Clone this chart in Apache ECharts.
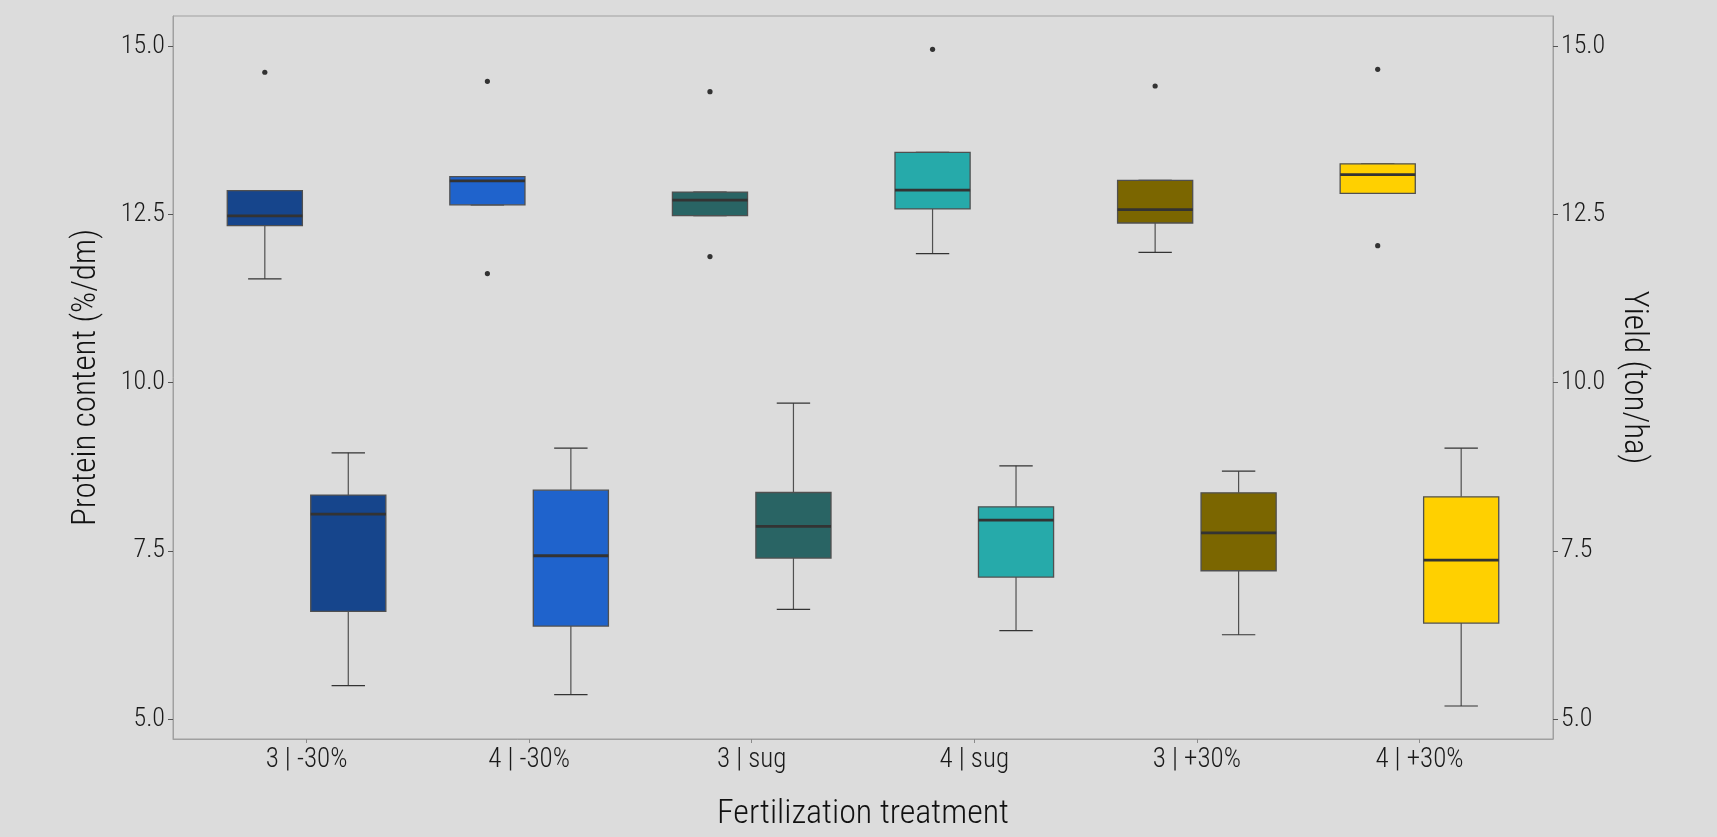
<!DOCTYPE html>
<html>
<head>
<meta charset="utf-8">
<script src="https://cdn.jsdelivr.net/npm/echarts@6/dist/echarts.min.js"></script>
<style>
html,body{margin:0;padding:0;background:#dcdcdc;}
#chart{width:1717px;height:837px;}
</style>
</head>
<body>
<div id="chart"></div>
<script>
// ---- data ----
const categories = ['3 | -30%', '4 | -30%', '3 | sug', '4 | sug', '3 | +30%', '4 | +30%'];
const boxColors = ['#16458C', '#1F63CC', '#296464', '#26AAAA', '#7B6600', '#FFD000'];
const yTicks = [5, 7.5, 10, 12.5, 15];

// [lower whisker, Q1, median, Q3, upper whisker]
const proteinStats = [
  [11.54, 12.33, 12.475, 12.85, 12.85],
  [12.64, 12.64, 12.995, 13.06, 13.06],
  [12.48, 12.48, 12.71, 12.83, 12.83],
  [11.915, 12.58, 12.86, 13.42, 13.42],
  [11.935, 12.37, 12.57, 13.005, 13.005],
  [12.81, 12.81, 13.09, 13.25, 13.25]
];
// [category number (1-based), value]
const proteinOutliers = [
  [1, 14.61], [2, 14.476], [2, 11.618], [3, 14.321], [3, 11.871],
  [4, 14.951], [5, 14.406], [6, 14.654], [6, 12.034]
];
const yieldStats = [
  [5.495, 6.598, 8.045, 8.327, 8.955],
  [5.361, 6.381, 7.426, 8.401, 9.025],
  [6.628, 7.391, 7.861, 8.366, 9.693],
  [6.312, 7.109, 7.955, 8.153, 8.762],
  [6.252, 7.203, 7.767, 8.361, 8.683],
  [5.193, 6.426, 7.362, 8.302, 9.025]
];
const yieldOutliers = [];

const axisMin = 4.703, axisMax = 15.446;
const FONT = "'Roboto Condensed', 'Liberation Sans Narrow', 'DejaVu Sans Condensed', sans-serif";

// ---- build ----
function boxData(stats) {
  return stats.map((s, i) => [i + 1].concat(s));
}
const DODGE = 0.1875, BOXW = 0.3375, CAPW = 0.15;

function boxRenderer(side) {
  return function (params, api) {
    const x = api.value(0);
    const band = api.size([1, 0])[0];
    const px = v => api.coord([x, v]);
    const cx = px(api.value(3))[0] + side * DODGE * band;
    const lowY = px(api.value(1))[1];
    const q1Y = px(api.value(2))[1];
    const medY = px(api.value(3))[1];
    const q3Y = px(api.value(4))[1];
    const highY = px(api.value(5))[1];
    const w = BOXW * band, cw = CAPW * band;
    const color = boxColors[params.dataIndex];
    const wStyle = { stroke: '#505050', lineWidth: 1.2 };
    return {
      type: 'group',
      children: [
        { type: 'line', shape: { x1: cx, y1: q3Y, x2: cx, y2: highY }, style: wStyle },
        { type: 'line', shape: { x1: cx, y1: q1Y, x2: cx, y2: lowY }, style: wStyle },
        { type: 'line', shape: { x1: cx - cw / 2, y1: highY, x2: cx + cw / 2, y2: highY }, style: { stroke: '#333', lineWidth: 1.2 } },
        { type: 'line', shape: { x1: cx - cw / 2, y1: lowY, x2: cx + cw / 2, y2: lowY }, style: { stroke: '#333', lineWidth: 1.2 } },
        { type: 'rect', shape: { x: cx - w / 2, y: q3Y, width: w, height: q1Y - q3Y },
          style: { fill: color, stroke: '#505050', lineWidth: 1.3 } },
        { type: 'line', shape: { x1: cx - w / 2, y1: medY, x2: cx + w / 2, y2: medY },
          style: { stroke: '#333', lineWidth: 2.8 } }
      ]
    };
  };
}
function outlierRenderer(side) {
  return function (params, api) {
    const band = api.size([1, 0])[0];
    const p = api.coord([api.value(0), api.value(1)]);
    return {
      type: 'circle',
      shape: { cx: p[0] + side * DODGE * band, cy: p[1], r: 2.6 },
      style: { fill: '#333' }
    };
  };
}

const yAxisCommon = {
  type: 'value', min: axisMin, max: axisMax,
  splitLine: { show: false },
  axisLine: { show: true, lineStyle: { color: '#a0a0a0', width: 1 } },
  axisTick: { show: true, length: 5, customValues: yTicks, lineStyle: { color: '#555' } },
  axisLabel: { customValues: yTicks, formatter: v => v.toFixed(1), margin: 8,
    fontFamily: FONT, fontWeight: 300, fontSize: 26, color: '#1a1a1a' },
  nameLocation: 'middle',
  nameTextStyle: { fontFamily: FONT, fontWeight: 300, fontSize: 33, color: '#111' }
};

const option = {
  backgroundColor: '#dcdcdc',
  animation: false,
  grid: { left: 173, right: 164, top: 16, bottom: 98, show: true,
    borderColor: '#a0a0a0', borderWidth: 1, backgroundColor: 'transparent' },
  xAxis: {
    type: 'value', min: 0.4, max: 6.6,
    splitLine: { show: false },
    axisLine: { show: true, lineStyle: { color: '#a0a0a0', width: 1 } },
    axisTick: { show: true, length: 4, customValues: [1, 2, 3, 4, 5, 6], lineStyle: { color: '#8a8a8a' } },
    axisLabel: { customValues: [1, 2, 3, 4, 5, 6], formatter: v => categories[Math.round(v) - 1] || '',
      margin: 8, fontFamily: FONT, fontWeight: 300, fontSize: 27, color: '#1a1a1a' },
    name: 'Fertilization treatment', nameLocation: 'middle', nameGap: 58,
    nameTextStyle: { fontFamily: FONT, fontWeight: 300, fontSize: 34, color: '#111' }
  },
  yAxis: [
    Object.assign({}, yAxisCommon, { position: 'left', name: 'Protein content (%/dm)', nameGap: 70 }),
    Object.assign({}, yAxisCommon, { position: 'right', name: 'Yield (ton/ha)', nameGap: 64, nameRotate: -90 })
  ],
  series: [
    { type: 'custom', name: 'Protein', yAxisIndex: 0, data: boxData(proteinStats),
      encode: { x: 0, y: [1, 2, 3, 4, 5] }, renderItem: boxRenderer(-1), z: 2 },
    { type: 'custom', name: 'Yield', yAxisIndex: 1, data: boxData(yieldStats),
      encode: { x: 0, y: [1, 2, 3, 4, 5] }, renderItem: boxRenderer(1), z: 2 },
    { type: 'custom', name: 'Protein outliers', yAxisIndex: 0, data: proteinOutliers,
      encode: { x: 0, y: 1 }, renderItem: outlierRenderer(-1), z: 3 },
    { type: 'custom', name: 'Yield outliers', yAxisIndex: 1, data: yieldOutliers,
      encode: { x: 0, y: 1 }, renderItem: outlierRenderer(1), z: 3 }
  ]
};

const chart = echarts.init(document.getElementById('chart'), null, { renderer: 'canvas' });
chart.setOption(option);
</script>
</body>
</html>
